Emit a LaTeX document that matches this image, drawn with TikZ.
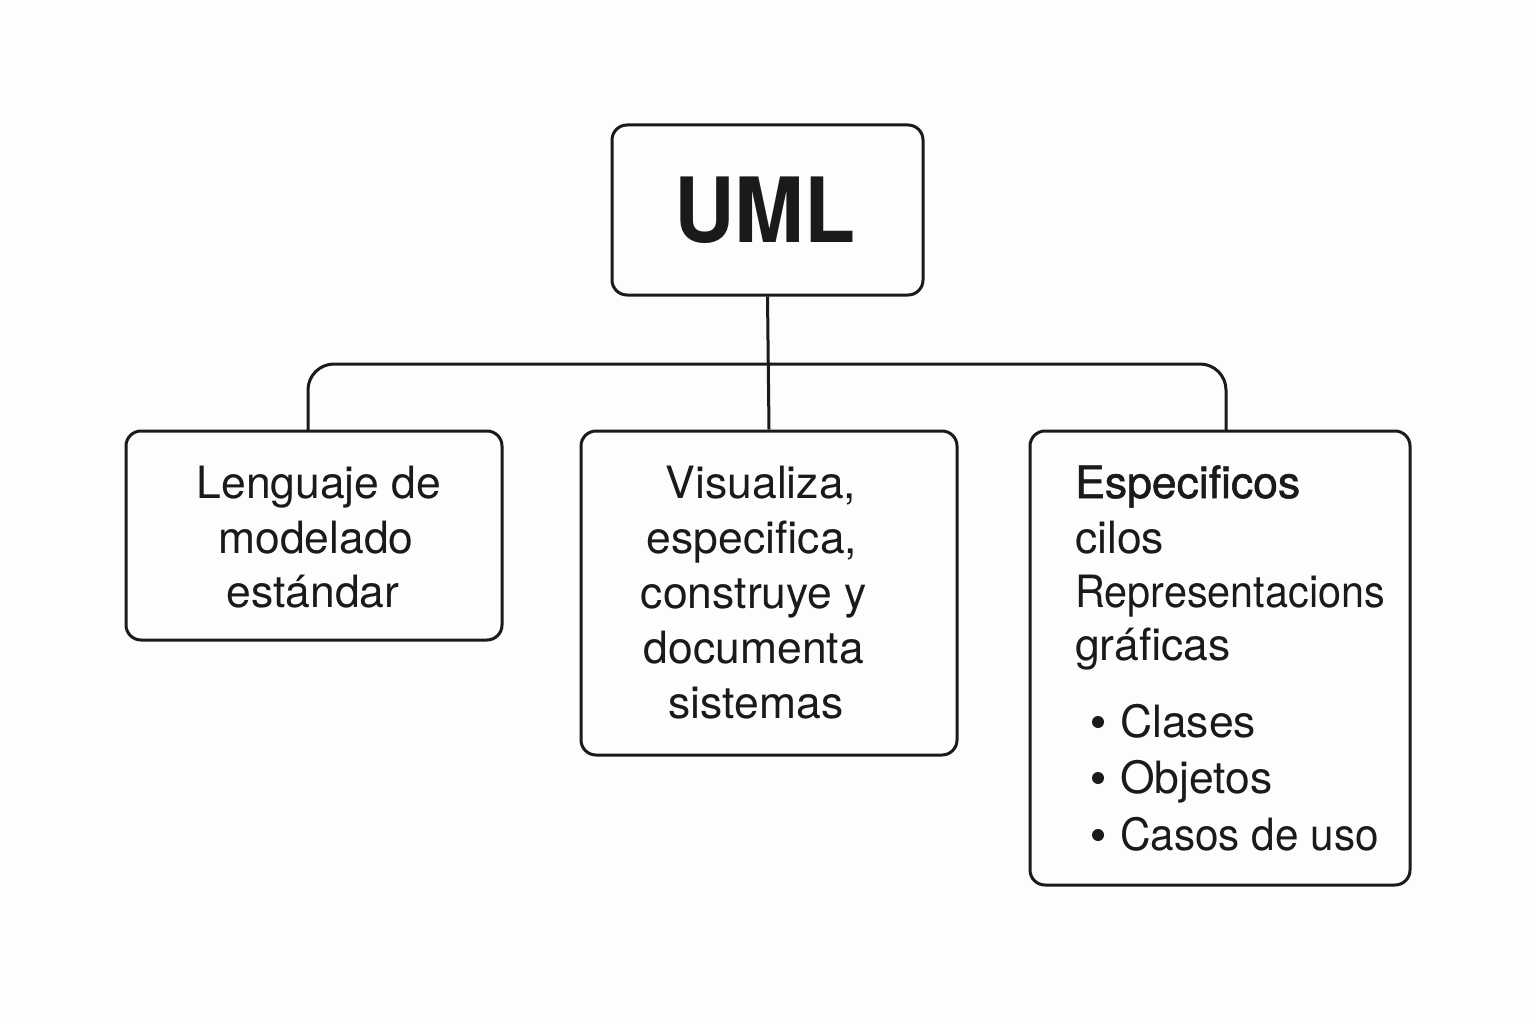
\documentclass[tikz,border=0pt]{standalone}
\usepackage{fontspec}
\setmainfont{TeX Gyre Heros}
\definecolor{bg}{HTML}{FDFDFB}
\definecolor{ink}{HTML}{1A1A1A}
\begin{document}
\begin{tikzpicture}[x=1pt,y=-1pt,
  box/.style={draw=ink,line width=3pt,rounded corners=15pt,fill=bg},
  link/.style={draw=ink,line width=3pt},
  txt/.style={inner sep=0pt,anchor=base,text=ink,font=\fontsize{44.5}{55}\selectfont},
  ltxt/.style={txt,anchor=base west}]
\fill[bg] (0,0) rectangle (1536,1024);
\useasboundingbox (0,0) rectangle (1536,1024);
% boxes
\node[box,minimum width=311pt,minimum height=170pt] (uml) at (767.5,210) {};
\node[box,minimum width=376pt,minimum height=209pt] (left) at (314,535.5) {};
\node[box,minimum width=376pt,minimum height=324pt] (mid) at (769,593) {};
\node[box,minimum width=380pt,minimum height=454pt] (right) at (1220,658) {};
% connectors
\coordinate (lt) at (308,431);
\coordinate (rt) at (1226,431);
\coordinate (bus) at (767,364);
\draw[link] (uml.south) -- (mid.north);
\draw[link,rounded corners=26pt] (lt) -- (lt |- bus) -- (rt |- bus) -- (rt);
% texts
\node[inner sep=0pt,anchor=base,text=ink,font=\fontsize{90}{90}\selectfont\bfseries\addfontfeature{FakeStretch=0.93}] (umlt) at (765,243) {UML};
\node[txt] (l1) at (319,498) {Lenguaje de};
\node[txt] (l2) at (316,553) {modelado};
\node[txt] (l3) at (313,607) {estándar};
\node[txt] (m1) at (761,498) {Visualiza,};
\node[txt] (m2) at (752,553) {especifica,};
\node[txt] (m3) at (754,608) {construye y};
\node[txt] (m4) at (754,663) {documenta};
\node[txt] (m5) at (756,718) {sistemas};
\node[ltxt,font=\fontsize{44.5}{55}\selectfont\addfontfeature{FakeBold=1.2}] (r1) at (1075,498) {Especificos};
\node[ltxt] (r2) at (1075,553) {cilos};
\node[ltxt,font=\fontsize{44.5}{55}\selectfont\addfontfeature{FakeStretch=0.93}] (r3) at (1075,607) {Representacions};
\node[ltxt] (r4) at (1075,660) {gráficas};
\node[ltxt] (b1) at (1120,737) {Clases};
\node[ltxt] (b2) at (1120,793) {Objetos};
\node[ltxt,font=\fontsize{44.5}{55}\selectfont\addfontfeature{FakeStretch=0.95}] (b3) at (1120,850) {Casos de uso};
\foreach \y in {737,793,850}{
  \fill[ink] (1098,\y-15) circle (6pt);
}
\end{tikzpicture}
\end{document}
